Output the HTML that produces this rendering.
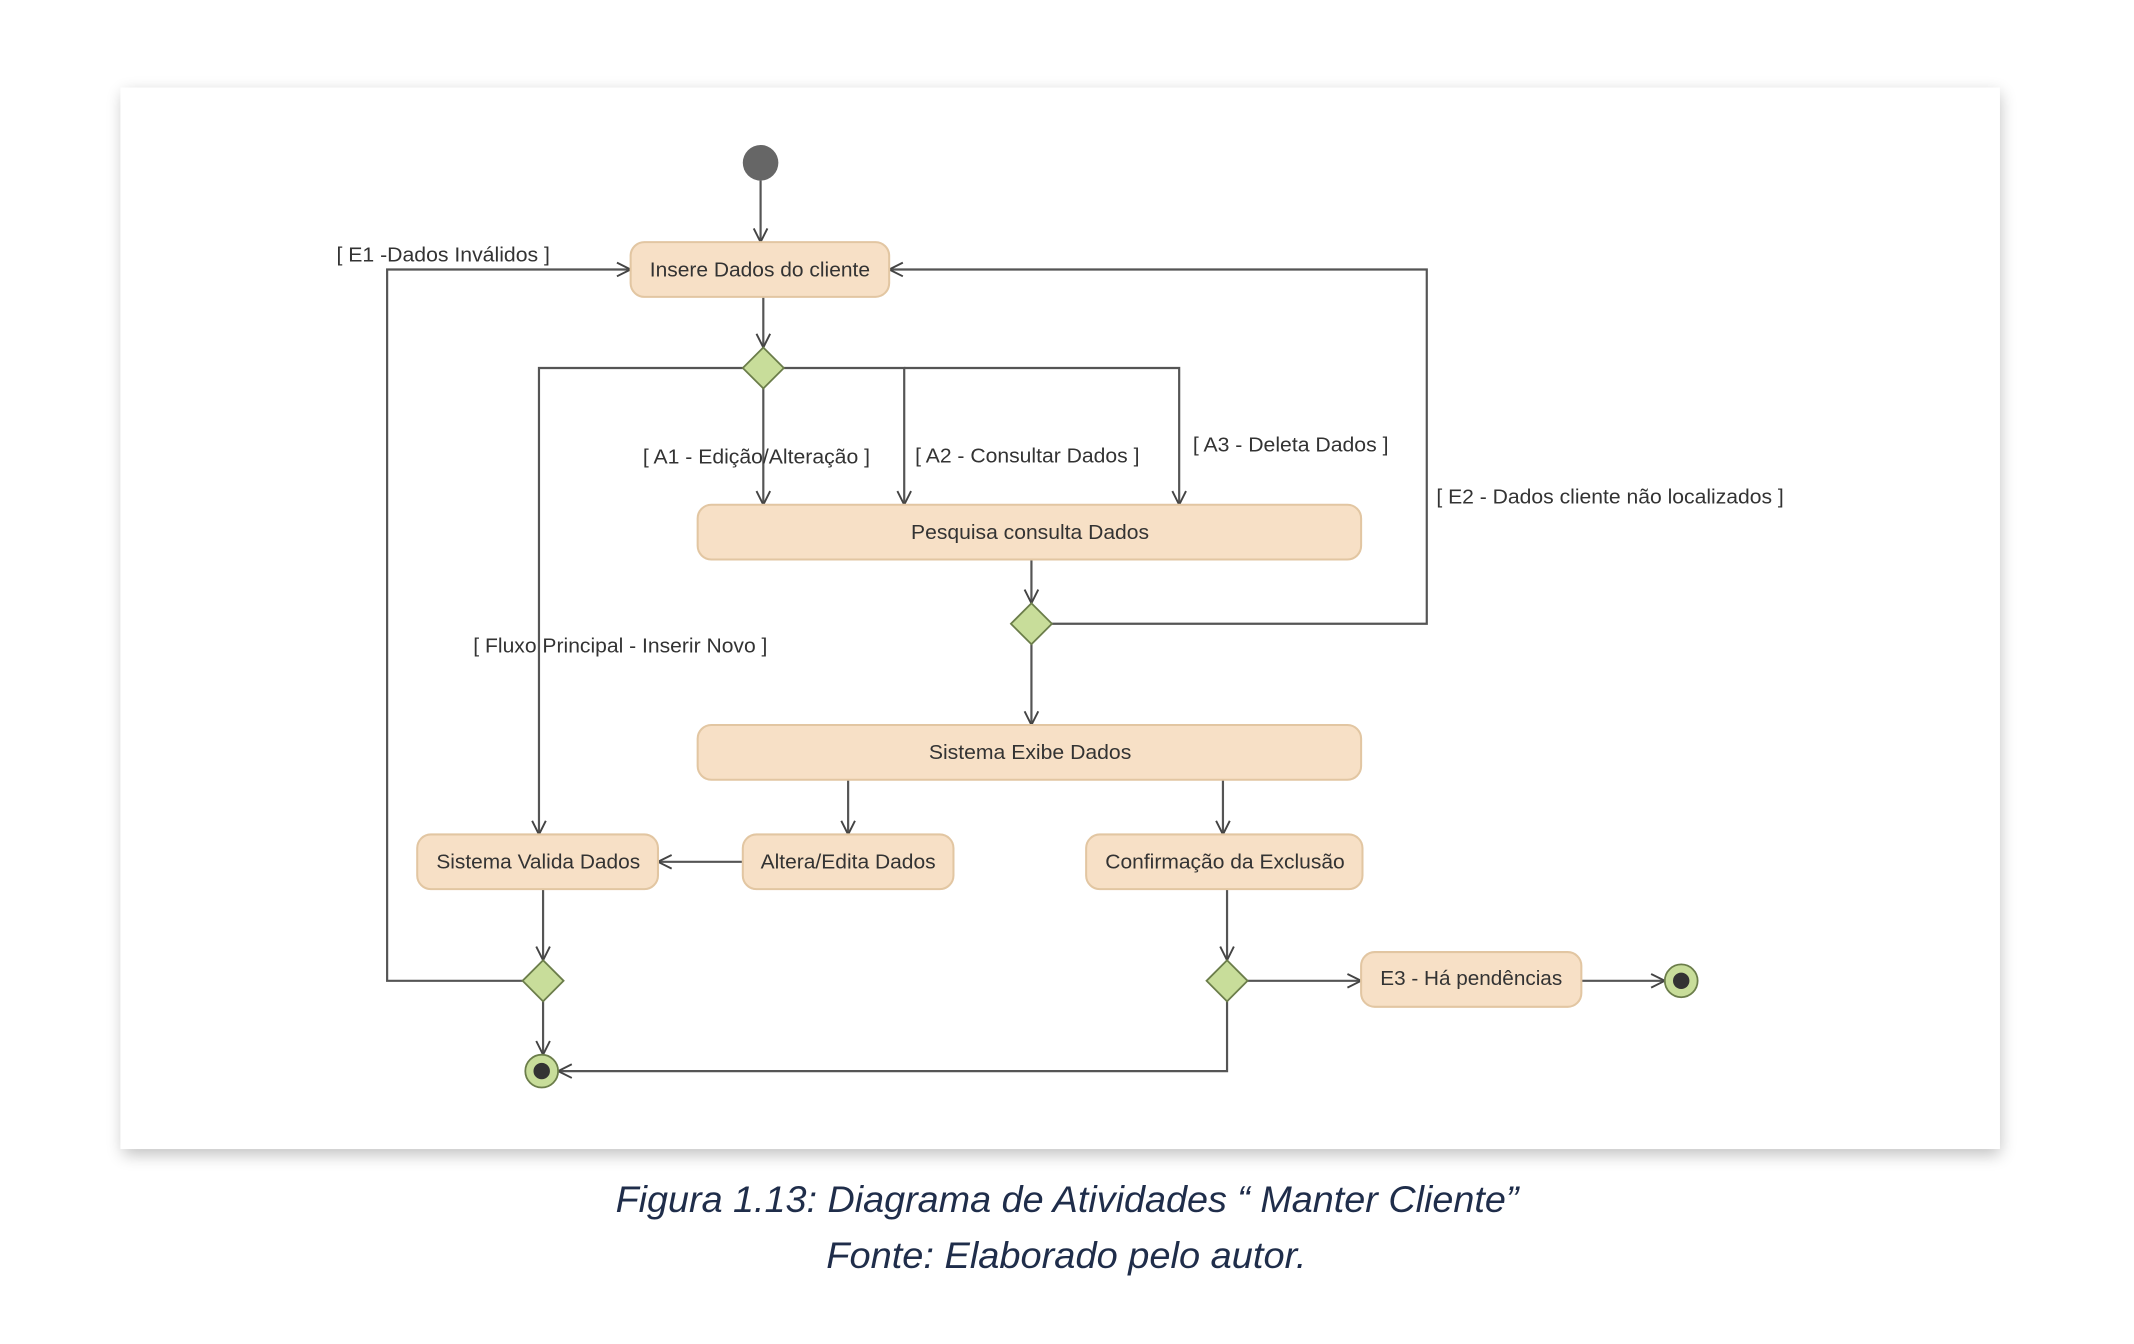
<!DOCTYPE html>
<html><head><meta charset="utf-8"><style>
html,body{margin:0;padding:0;background:#fff;width:2134px;height:1344px;overflow:hidden}
svg{display:block}
</style></head><body>
<svg width="2134" height="1344" viewBox="0 0 1560 982.5" preserveAspectRatio="none" xmlns="http://www.w3.org/2000/svg">
<defs>
<filter id="sh" x="-5%" y="-5%" width="110%" height="115%"><feGaussianBlur stdDeviation="6"/></filter>
<marker id="a" markerWidth="14" markerHeight="14" refX="12" refY="7" orient="auto" markerUnits="userSpaceOnUse"><path d="M2,2 L12,7 L2,12" fill="none" stroke="#444" stroke-width="1.4"/></marker>
</defs>
<rect x="90" y="68" width="1372" height="776" fill="#000" opacity="0.25" filter="url(#sh)"/>
<rect x="88" y="64" width="1374" height="776" fill="#fff"/>
<g fill="none" stroke="#555" stroke-width="1.6">
<line x1="556" y1="132" x2="556" y2="177" marker-end="url(#a)"/>
<line x1="558" y1="217" x2="558" y2="254" marker-end="url(#a)"/>
<polyline points="543,269 394,269 394,610" marker-end="url(#a)"/>
<line x1="558" y1="284" x2="558" y2="369" marker-end="url(#a)"/>
<polyline points="573,269 661,269 661,369" marker-end="url(#a)"/>
<polyline points="661,269 862,269 862,369" marker-end="url(#a)"/>
<line x1="754" y1="409" x2="754" y2="441" marker-end="url(#a)"/>
<polyline points="769,456 1043,456 1043,197 650,197" marker-end="url(#a)"/>
<line x1="754" y1="471" x2="754" y2="530" marker-end="url(#a)"/>
<line x1="620" y1="570" x2="620" y2="610" marker-end="url(#a)"/>
<line x1="894" y1="570" x2="894" y2="610" marker-end="url(#a)"/>
<line x1="543" y1="630" x2="481" y2="630" marker-end="url(#a)"/>
<line x1="397" y1="650" x2="397" y2="702" marker-end="url(#a)"/>
<polyline points="382,717 283,717 283,197 461,197" marker-end="url(#a)"/>
<line x1="397" y1="732" x2="397" y2="771" marker-end="url(#a)"/>
<line x1="897" y1="650" x2="897" y2="702" marker-end="url(#a)"/>
<line x1="912" y1="717" x2="995" y2="717" marker-end="url(#a)"/>
<line x1="1156" y1="717" x2="1217" y2="717" marker-end="url(#a)"/>
<polyline points="897,732 897,783 408,783" marker-end="url(#a)"/>
</g>
<circle cx="556" cy="119" r="13" fill="#666"/>
<g fill="#f7e0c6" stroke="#e2c6a2" stroke-width="1.5">
<rect x="461" y="177" width="189" height="40" rx="10"/>
<rect x="510" y="369" width="485" height="40" rx="10"/>
<rect x="510" y="530" width="485" height="40" rx="10"/>
<rect x="305" y="610" width="176" height="40" rx="10"/>
<rect x="543" y="610" width="154" height="40" rx="10"/>
<rect x="794" y="610" width="202" height="40" rx="10"/>
<rect x="995" y="696" width="161" height="40" rx="10"/>
</g>
<g fill="#c8dd9a" stroke="#6b7d4a" stroke-width="1.3">
<polygon points="558,254 573,269 558,284 543,269"/>
<polygon points="754,441 769,456 754,471 739,456"/>
<polygon points="397,702 412,717 397,732 382,717"/>
<polygon points="897,702 912,717 897,732 882,717"/>
<circle cx="396" cy="783" r="12"/>
<circle cx="1229" cy="717" r="12"/>
</g>
<circle cx="396" cy="783" r="6" fill="#333"/>
<circle cx="1229" cy="717" r="6" fill="#333"/>
<g font-family="Liberation Sans, sans-serif" font-size="15" fill="#333" lengthAdjust="spacingAndGlyphs">
<text x="246" y="191" textLength="156" lengthAdjust="spacingAndGlyphs">[ E1 -Dados Inválidos ]</text>
<text x="470" y="339" textLength="166" lengthAdjust="spacingAndGlyphs">[ A1 - Edição/Alteração ]</text>
<text x="669" y="338" textLength="164" lengthAdjust="spacingAndGlyphs">[ A2 - Consultar Dados ]</text>
<text x="872" y="330" textLength="143" lengthAdjust="spacingAndGlyphs">[ A3 - Deleta Dados ]</text>
<text x="1050" y="368" textLength="254" lengthAdjust="spacingAndGlyphs">[ E2 - Dados cliente não localizados ]</text>
<text x="346" y="477" textLength="215" lengthAdjust="spacingAndGlyphs">[ Fluxo Principal - Inserir Novo ]</text>
<text x="475" y="202" textLength="161" lengthAdjust="spacingAndGlyphs">Insere Dados do cliente</text>
<text x="666" y="394" textLength="174" lengthAdjust="spacingAndGlyphs">Pesquisa consulta Dados</text>
<text x="679" y="555" textLength="148" lengthAdjust="spacingAndGlyphs">Sistema Exibe Dados</text>
<text x="319" y="635" textLength="149" lengthAdjust="spacingAndGlyphs">Sistema Valida Dados</text>
<text x="556" y="635" textLength="128" lengthAdjust="spacingAndGlyphs">Altera/Edita Dados</text>
<text x="808" y="635" textLength="175" lengthAdjust="spacingAndGlyphs">Confirmação da Exclusão</text>
<text x="1009" y="720" textLength="133" lengthAdjust="spacingAndGlyphs">E3 - Há pendências</text>
</g>
<g font-family="Liberation Sans, sans-serif" font-style="italic" font-size="27" fill="#1f2d4a">
<text x="450" y="886" textLength="660" lengthAdjust="spacingAndGlyphs">Figura 1.13: Diagrama de Atividades “ Manter Cliente”</text>
<text x="604" y="927" textLength="351" lengthAdjust="spacingAndGlyphs">Fonte: Elaborado pelo autor.</text>
</g>
</svg>
</body></html>
